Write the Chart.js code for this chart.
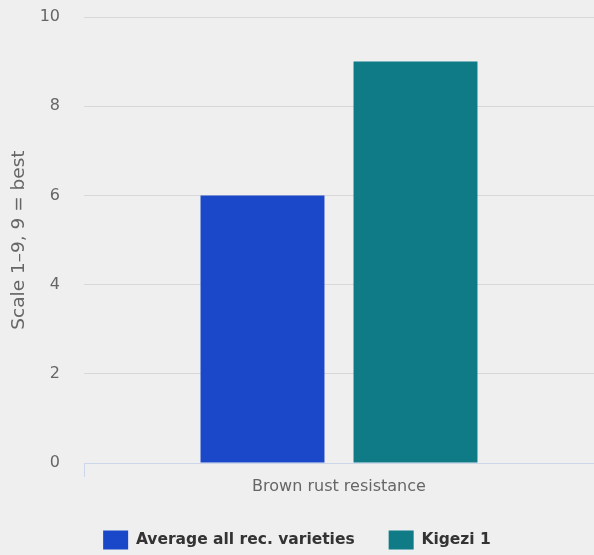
<!DOCTYPE html>
<html>
<head>
<meta charset="utf-8">
<script src="https://cdn.jsdelivr.net/npm/chart.js@4"></script>
<style>
  html, body { margin: 0; padding: 0; background: #efefef; }
  #wrap { width: 594px; height: 555px; }
</style>
</head>
<body>
<div id="wrap"><canvas id="chart"></canvas></div>
<script>
// chart data
const categories = ['Brown rust resistance'];
const seriesNames = ['Average all rec. varieties', 'Kigezi 1'];
const averageValues = [6];
const kigeziValues = [9];
const seriesColors = ['#1a48c9', '#0e7b87'];
const yTitle = 'Scale 1\u20139, 9 = best';

const font = "'DejaVu Sans', sans-serif";

new Chart(document.getElementById('chart'), {
    type: 'bar',
    data: {
        labels: categories,
        datasets: [
            { label: seriesNames[0], data: averageValues, backgroundColor: seriesColors[0] },
            { label: seriesNames[1], data: kigeziValues, backgroundColor: seriesColors[1] }
        ]
    },
    options: {
        responsive: true,
        maintainAspectRatio: false,
        animation: false,
        categoryPercentage: 0.6,
        barPercentage: 0.81,
        layout: { padding: { top: 0, right: 0, left: 0, bottom: -4.5 } },
        plugins: {
            tooltip: { enabled: false },
            legend: {
                position: 'bottom',
                labels: {
                    boxWidth: 25,
                    boxHeight: 19,
                    padding: 34,
                    color: '#333',
                    font: { family: font, size: 15.5, weight: 'bold' }
                }
            }
        },
        scales: {
            x: {
                grid: {
                    display: true,
                    drawOnChartArea: false,
                    color: '#ccd6eb',
                    tickLength: 14,
                    offset: true
                },
                border: { color: '#ccd6eb', width: 1 },
                ticks: { color: '#666', padding: 0, font: { family: font, size: 16 } },
                afterFit: function (scale) { scale.height = 33.5; }
            },
            y: {
                min: 0,
                max: 10,
                ticks: { stepSize: 2, color: '#666', padding: 24, font: { family: font, size: 16 } },
                grid: { color: '#d8d8d8', drawTicks: false },
                border: { display: false },
                title: {
                    display: true,
                    text: yTitle,
                    color: '#666',
                    padding: { top: 8, bottom: 0 },
                    font: { family: font, size: 18.5 }
                },
                afterFit: function (scale) {
                    scale.width = 84;
                    scale.paddingTop = 17;
                    scale.paddingBottom = 0;
                }
            }
        }
    }
});
</script>
</body>
</html>
